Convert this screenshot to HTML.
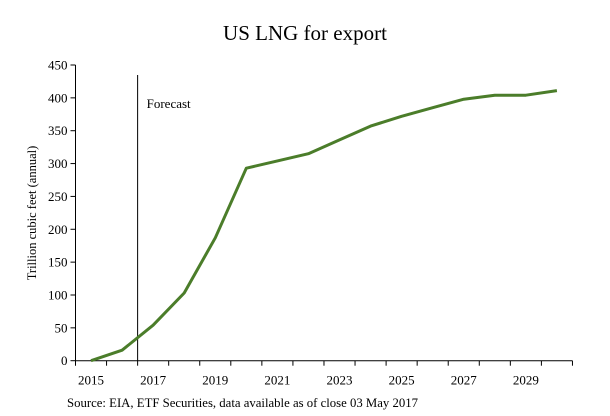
<!DOCTYPE html>
<html><head><meta charset="utf-8"><style>
html,body{margin:0;padding:0;background:#fff;}
svg text{font-family:"Liberation Serif",serif;fill:#000;}
</style></head><body>
<svg id="chart" width="610" height="411" xmlns="http://www.w3.org/2000/svg">
<text x="305" y="40" text-anchor="middle" font-size="21">US LNG for export</text>
<text transform="translate(36,213) rotate(-90)" text-anchor="middle" font-size="12.5">Trillion cubic feet (annual)</text>
<text x="67" y="407" font-size="12.5" textLength="351" lengthAdjust="spacingAndGlyphs">Source: EIA, ETF Securities, data available as of close 03 May 2017</text>
<g id="axes"></g>
<g id="series"></g>
</svg>
<script>
const years=[2015,2016,2017,2018,2019,2020,2021,2022,2023,2024,2025,2026,2027,2028,2029,2030];
const values=[0,16,54,103,187,293,304,315,336,357,372,385,398,404,404,411];
const yTicks=[0,50,100,150,200,250,300,350,400,450];
const xLabels=[2015,2017,2019,2021,2023,2025,2027,2029];
const forecastStart=2016.5;

const NS="http://www.w3.org/2000/svg";
const x0=75.5,step=31.06,y0=360.7,yTop=65,yMax=450;
function xBand(i){return x0+step*i;}
function xYear(yr){return x0+step*(yr-years[0]+0.5);}
function yScale(v){return y0-(v/yMax)*(y0-yTop);}
const axes=document.getElementById('axes');
function mk(tag,attrs,parent){const e=document.createElementNS(NS,tag);for(const k in attrs)e.setAttribute(k,attrs[k]);parent.appendChild(e);return e;}

const ya=mk('line',{x1:x0,y1:yScale(yMax),x2:x0,y2:y0,stroke:'#000','stroke-width':1},axes);


yTicks.forEach(v=>{
  const t=mk('line',{x1:x0-5,x2:x0,y1:yScale(v),y2:yScale(v),stroke:'#000'},axes);
  
  
  const l=mk('text',{x:x0-8,y:yScale(v)+4.5,'text-anchor':'end','font-size':13},axes);
  l.textContent=v;
  
  
});
const xa=mk('line',{x1:x0,y1:y0,x2:xBand(years.length),y2:y0,stroke:'#000','stroke-width':1},axes);


for(let i=0;i<=years.length;i++){
  const t=mk('line',{x1:xBand(i),x2:xBand(i),y1:y0,y2:y0+5,stroke:'#000'},axes);
  
  
}
xLabels.forEach(yr=>{
  const l=mk('text',{x:xYear(yr),y:y0+24,'text-anchor':'middle','font-size':13},axes);
  l.textContent=yr;
  
  
});
const fx=xYear(forecastStart);
const fl=mk('line',{x1:fx,x2:fx,y1:75,y2:y0,stroke:'#000','stroke-width':1},axes);


const ft=mk('text',{x:fx+9,y:108,'font-size':13},axes);
ft.textContent='Forecast';



const pts=values.map((v,i)=>xYear(years[i]).toFixed(1)+','+yScale(v).toFixed(1)).join(' ');
const pl=mk('polyline',{points:pts,fill:'none',stroke:'#4b7d2a','stroke-width':3,'stroke-linejoin':'round'},document.getElementById('series'));


</script>
</body></html>
